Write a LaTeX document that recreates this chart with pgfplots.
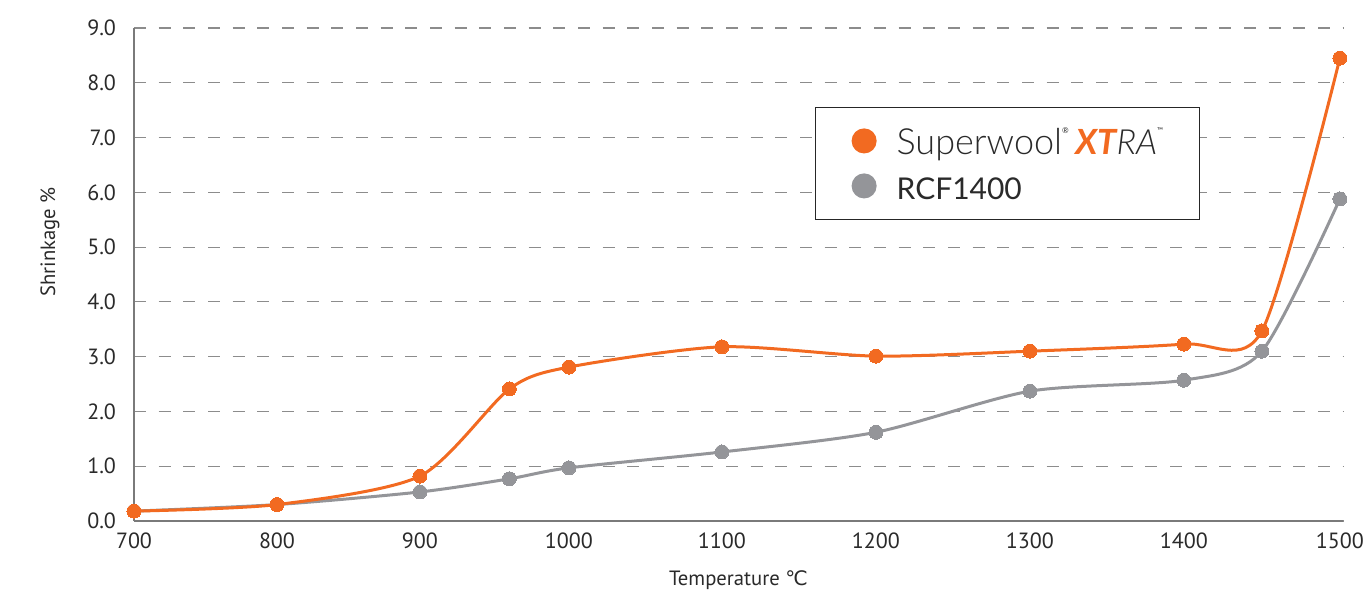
\documentclass[border=0pt]{standalone}
\usepackage{fontspec}
\setmainfont{PT Sans}
\newfontfamily\lightfont{Lato Light}
\newfontfamily\latofont{Lato}
\newfontfamily\dejavu{DejaVu Sans}
\usepackage{pgfplots}
\pgfplotsset{compat=1.18}
\definecolor{xorange}{HTML}{F26A21}
\definecolor{xgray}{HTML}{949599}
\definecolor{axisgray}{HTML}{7A7A7A}
\definecolor{gridgray}{HTML}{8C8C8C}
\definecolor{txt}{HTML}{2A2A2A}
\begin{document}
\begin{tikzpicture}
\begin{axis}[
  at={(100.5pt,52.5pt)}, anchor=south west,
  scale only axis, width=906.75pt, height=369.75pt,
  x coord trafo/.code={\pgfmathparse{134+1.43*(min(#1,900)-700)+1.49*max(0,min(#1,1000)-900)+1.53*max(0,min(#1,1100)-1000)+1.54*max(0,min(#1,1400)-1100)+1.56*max(0,#1-1400)}},
  xmin=700, xmax=1502, ymin=0, ymax=9,
  axis lines*=left,
  axis line style={axisgray, line width=1.6pt},
  xtick={700,800,900,1000,1100,1200,1300,1400,1500},
  xticklabels={700,800,900,1000,1100,1200,1300,1400,1500},
  ytick={0,1,2,3,4,5,6,7,8,9},
  major tick length=0pt,
  /pgf/number format/assume math mode=true,
  yticklabel={\pgfmathprintnumber[fixed,fixed zerofill,precision=1]{\tick}},
  tick label style={font=\fontsize{16.5}{18}\selectfont, text=txt},
  yticklabel style={xshift=-10pt},
  xticklabel style={yshift=-5pt},
  ymajorgrids,
  major grid style={gridgray, dash pattern=on 9pt off 9.5pt, line width=0.9pt},
  xlabel={Temperature {\dejavu\fontsize{15}{17}\selectfont ℃}},
  ylabel={Shrinkage \%},
  label style={font=\fontsize{15.5}{17}\selectfont, text=txt},
  xlabel style={at={(axis description cs:0.5,-0.1197)}, anchor=center},
  ylabel style={at={(axis description cs:-0.0695,0.566)}, anchor=center},
  reverse legend,
  legend style={at={(rel axis cs:0.5633,0.8398)}, anchor=north west,
    draw=black!85, line width=0.9pt, fill=white,
    font=\latofont\fontsize{22.5}{27}\selectfont, text=txt,
    inner xsep=27pt, inner ysep=9pt, row sep=1.75pt, column sep=15pt,
    nodes={inner sep=0pt, text height=26pt, text depth=6pt}},
  legend cell align=left,
  clip=false,
]
\addplot[xgray, line width=2.25pt, smooth, tension=0.45, mark=*, mark size=5.25pt, mark options={fill=xgray, draw=xgray, line width=0pt},
  legend image code/.code={\fill[xgray] (0pt,0pt) circle (8.25pt);}]
  coordinates {(700,0.18) (800,0.30) (900,0.53) (960,0.77) (1000,0.97) (1100,1.26) (1200,1.62) (1300,2.37) (1400,2.57) (1450,3.10) (1500,5.88)};
\addplot[xorange, line width=2.25pt, smooth, tension=0.45, mark=*, mark size=5.25pt, mark options={fill=xorange, draw=xorange, line width=0pt},
  legend image code/.code={\fill[xorange] (0pt,0pt) circle (8.25pt);}]
  coordinates {(700,0.18) (800,0.30) (900,0.82) (960,2.41) (1000,2.81) (1100,3.18) (1200,3.01) (1300,3.10) (1400,3.23) (1450,3.47) (1500,8.45)};
\legend{RCF1400, {\lightfont\fontsize{27}{27}\selectfont Superwool}\raisebox{1.35ex}{\latofont\fontsize{6}{6}\selectfont ®}\hspace{5pt}{\latofont\fontsize{26}{27}\selectfont\bfseries\itshape\color{xorange}XT}{\lightfont\fontsize{26}{27}\selectfont\itshape RA}\raisebox{1.35ex}{\latofont\fontsize{6}{6}\selectfont ™}}
\end{axis}
\pgfresetboundingbox
\path[use as bounding box] (0,0) rectangle (1024.5pt,443.25pt);
\end{tikzpicture}
\end{document}
